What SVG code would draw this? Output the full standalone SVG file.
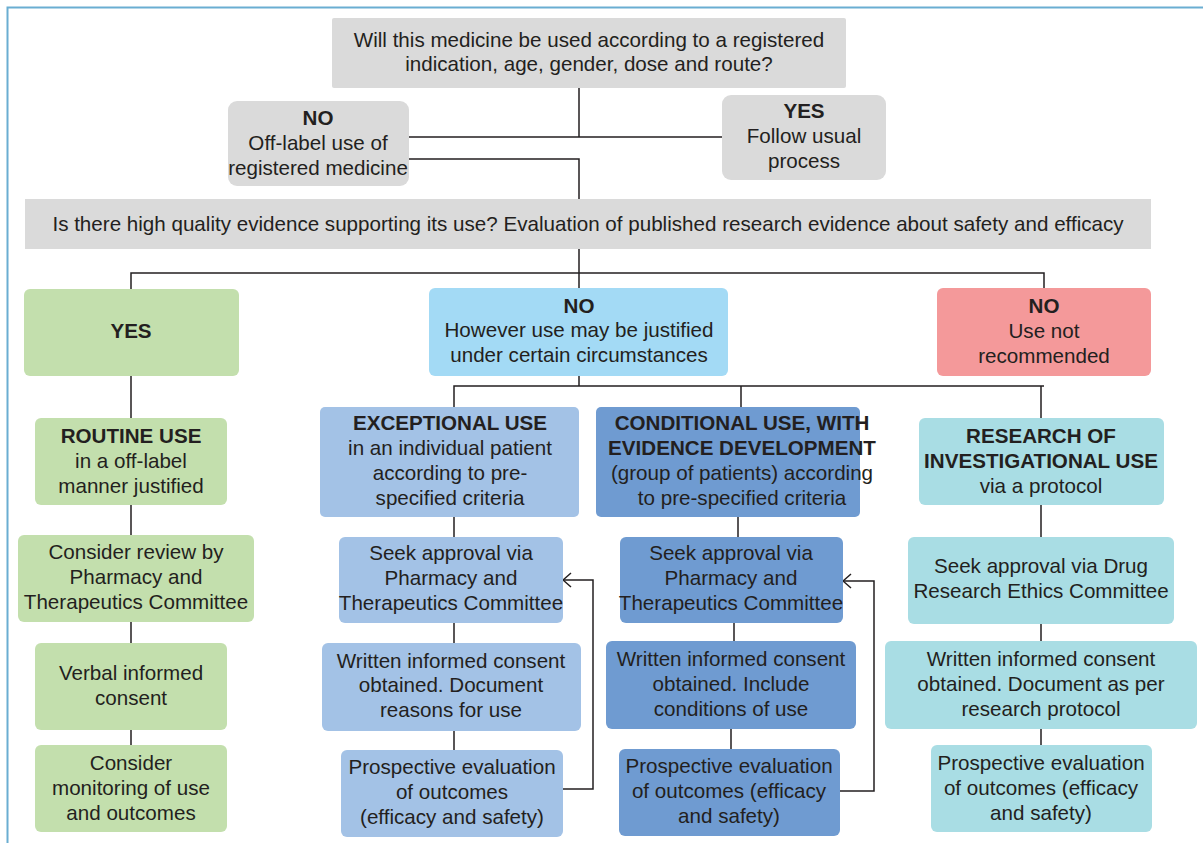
<svg xmlns="http://www.w3.org/2000/svg" width="1203" height="843" viewBox="0 0 1203 843">
<defs>
<marker id="arr" viewBox="0 0 10 16" refX="9" refY="8" markerWidth="10" markerHeight="16" markerUnits="userSpaceOnUse" orient="auto">
<path d="M1,1 L9,8 L1,15" fill="none" stroke="#231f20" stroke-width="1.5"/>
</marker>
<style>
text{font-family:"Liberation Sans",Arial,sans-serif;font-size:20.6px;fill:#231f20;text-anchor:middle}
.b{font-weight:bold}
.gray{fill:#dadada}
.green{fill:#c3dfad}
.sky{fill:#a3daf5}
.red{fill:#f4999a}
.lb{fill:#a3c2e6}
.mb{fill:#6f9bd1}
.teal{fill:#a9dde4}
.ln{fill:none;stroke:#231f20;stroke-width:1.5}
</style>
</defs>
<rect width="1203" height="843" fill="#fff"/>
<path d="M7.5,843 V7.5 H1203" fill="none" stroke="#6aaed2" stroke-width="2"/>

<g id="connectors" class="ln">
<path d="M579,88 V137 M409,137 H722"/>
<path d="M409,159 H579 V199"/>
<path d="M579,249 V273 M131,289 V273 H1044 V289 M579,273 V288"/>
<path d="M579,376 V386 M454,407 V386 H1044 M741,386 V407 M1041,386 V418"/>
<path d="M131,376 V418 M131,505 V535 M131,622 V643 M131,730 V745"/>
<path d="M454,517 V537 M454,623 V643 M454,731 V750"/>
<path d="M738,517 V537 M734,623 V641 M731,729 V749"/>
<path d="M1041,505 V537 M1041,624 V641 M1041,729 V745"/>
<path d="M563,789 H593 V580 H563" marker-end="url(#arr)"/>
<path d="M840,791 H874 V581 H843" marker-end="url(#arr)"/>
</g>

<g id="q1"><rect class="gray" x="332" y="18" width="514" height="70" rx="2"/>
<text x="589" y="47">Will this medicine be used according to a registered</text>
<text x="589" y="71">indication, age, gender, dose and route?</text></g>

<g id="no1"><rect class="gray" x="228" y="101" width="181" height="85" rx="9"/>
<text class="b" x="318" y="125">NO</text>
<text x="318" y="150">Off-label use of</text>
<text x="318" y="175">registered medicine</text></g>

<g id="yes1"><rect class="gray" x="722" y="95" width="164" height="85" rx="9"/>
<text class="b" x="804" y="118">YES</text>
<text x="804" y="143">Follow usual</text>
<text x="804" y="168">process</text></g>

<g id="q2"><rect class="gray" x="25" y="199" width="1126" height="50"/>
<text x="588" y="231">Is there high quality evidence supporting its use? Evaluation of published research evidence about safety and efficacy</text></g>

<g id="yes2"><rect class="green" x="24" y="289" width="215" height="87" rx="6"/>
<text class="b" x="131" y="338">YES</text></g>

<g id="no2"><rect class="sky" x="429" y="288" width="299" height="88" rx="6"/>
<text class="b" x="579" y="313">NO</text>
<text x="579" y="337">However use may be justified</text>
<text x="579" y="362">under certain circumstances</text></g>

<g id="no3"><rect class="red" x="937" y="288" width="214" height="88" rx="6"/>
<text class="b" x="1044" y="313">NO</text>
<text x="1044" y="338">Use not</text>
<text x="1044" y="363">recommended</text></g>

<g id="routine"><rect class="green" x="35" y="418" width="192" height="87" rx="6"/>
<text class="b" x="131" y="443">ROUTINE USE</text>
<text x="131" y="468">in a off-label</text>
<text x="131" y="493">manner justified</text></g>

<g id="g2"><rect class="green" x="18" y="535" width="236" height="87" rx="6"/>
<text x="136" y="559">Consider review by</text>
<text x="136" y="584">Pharmacy and</text>
<text x="136" y="609">Therapeutics Committee</text></g>

<g id="g3"><rect class="green" x="35" y="643" width="192" height="87" rx="6"/>
<text x="131" y="680">Verbal informed</text>
<text x="131" y="705">consent</text></g>

<g id="g4"><rect class="green" x="35" y="745" width="192" height="87" rx="6"/>
<text x="131" y="770">Consider</text>
<text x="131" y="795">monitoring of use</text>
<text x="131" y="820">and outcomes</text></g>

<g id="exc"><rect class="lb" x="320" y="407" width="259" height="110" rx="5"/>
<text class="b" x="450" y="430">EXCEPTIONAL USE</text>
<text x="450" y="455">in an individual patient</text>
<text x="450" y="480">according to pre-</text>
<text x="450" y="505">specified criteria</text></g>

<g id="e2"><rect class="lb" x="339" y="537" width="224" height="86" rx="6"/>
<text x="451" y="560">Seek approval via</text>
<text x="451" y="585">Pharmacy and</text>
<text x="451" y="610">Therapeutics Committee</text></g>

<g id="e3"><rect class="lb" x="322" y="643" width="259" height="88" rx="6"/>
<text x="451" y="668">Written informed consent</text>
<text x="451" y="692">obtained. Document</text>
<text x="451" y="717">reasons for use</text></g>

<g id="e4"><rect class="lb" x="341" y="750" width="222" height="87" rx="6"/>
<text x="452" y="774">Prospective evaluation</text>
<text x="452" y="799">of outcomes</text>
<text x="452" y="824">(efficacy and safety)</text></g>

<g id="cond"><rect class="mb" x="596" y="407" width="264" height="110" rx="5"/>
<text class="b" x="742" y="430">CONDITIONAL USE, WITH</text>
<text class="b" x="742" y="455">EVIDENCE DEVELOPMENT</text>
<text x="742" y="480">(group of patients) according</text>
<text x="742" y="505">to pre-specified criteria</text></g>

<g id="c2"><rect class="mb" x="620" y="537" width="223" height="86" rx="6"/>
<text x="731" y="560">Seek approval via</text>
<text x="731" y="585">Pharmacy and</text>
<text x="731" y="610">Therapeutics Committee</text></g>

<g id="c3"><rect class="mb" x="606" y="641" width="250" height="88" rx="6"/>
<text x="731" y="666">Written informed consent</text>
<text x="731" y="691">obtained. Include</text>
<text x="731" y="716">conditions of use</text></g>

<g id="c4"><rect class="mb" x="619" y="749" width="221" height="87" rx="6"/>
<text x="729" y="773">Prospective evaluation</text>
<text x="729" y="798">of outcomes (efficacy</text>
<text x="729" y="823">and safety)</text></g>

<g id="res"><rect class="teal" x="919" y="418" width="245" height="87" rx="6"/>
<text class="b" x="1041" y="443">RESEARCH OF</text>
<text class="b" x="1041" y="468">INVESTIGATIONAL USE</text>
<text x="1041" y="493">via a protocol</text></g>

<g id="r2"><rect class="teal" x="908" y="537" width="266" height="87" rx="6"/>
<text x="1041" y="573">Seek approval via Drug</text>
<text x="1041" y="598">Research Ethics Committee</text></g>

<g id="r3"><rect class="teal" x="885" y="641" width="312" height="88" rx="6"/>
<text x="1041" y="666">Written informed consent</text>
<text x="1041" y="691">obtained. Document as per</text>
<text x="1041" y="716">research protocol</text></g>

<g id="r4"><rect class="teal" x="931" y="745" width="221" height="87" rx="6"/>
<text x="1041" y="770">Prospective evaluation</text>
<text x="1041" y="795">of outcomes (efficacy</text>
<text x="1041" y="820">and safety)</text></g>
</svg>
